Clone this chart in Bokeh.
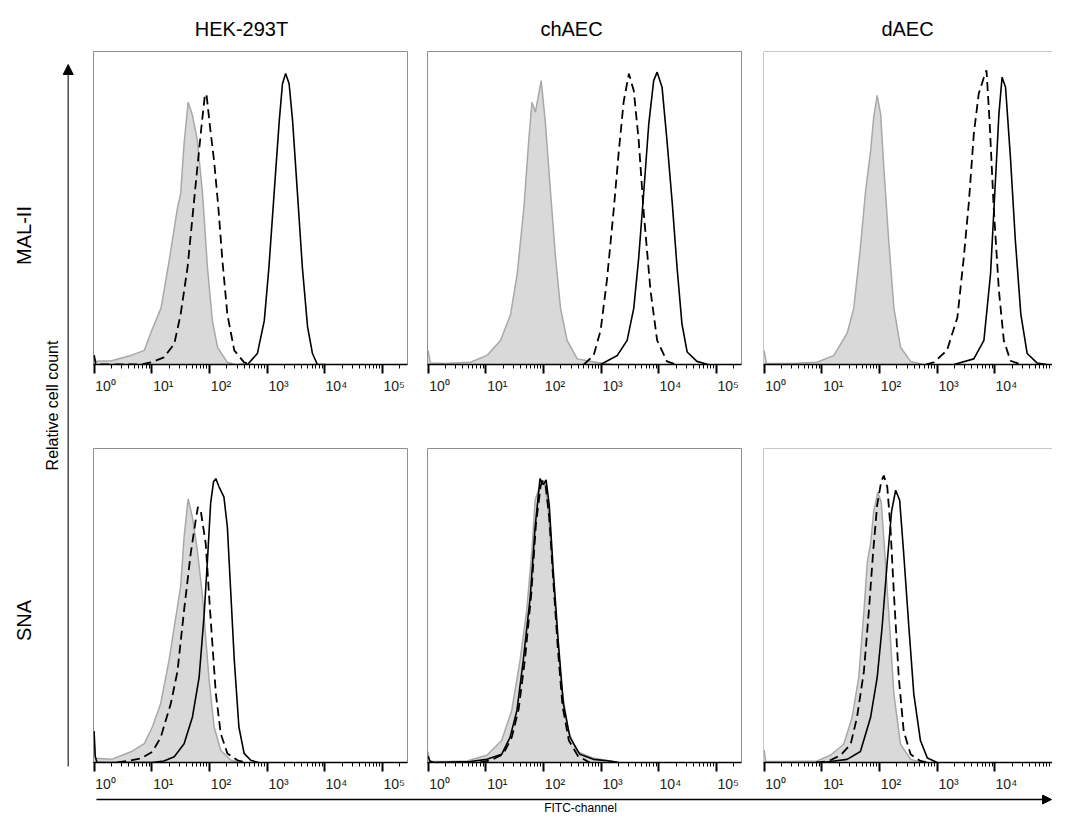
import math
from bokeh.plotting import figure
from bokeh.layouts import row, column
from bokeh.models import (Range1d, FixedTicker, CustomJSTickFormatter, Label,
                          Arrow, NormalHead, Span, LinearAxis)
from bokeh.embed import file_html
from bokeh.resources import INLINE

# ---------------- data ----------------
col_titles = ["HEK-293T", "chAEC", "dAEC"]
row_titles = ["MAL-II", "SNA"]
decade_ticks = [0, 1, 2, 3, 4, 5]
decade_exps = ["0", "1", "2", "3", "4", "5"]
y_title = "Relative cell count"
x_title = "FITC-channel"

# x: log10 FITC intensity, y: % of panel height (relative cell count)
# HEK-293T / MAL-II
hek_mal_ctrl_x = [0, 0.03, 0.3, 0.64, 0.87, 0.98, 1.16, 1.30, 1.445, 1.50, 1.56, 1.63, 1.705, 1.79, 1.88, 1.965, 2.05, 2.14, 2.31, 2.45]
hek_mal_ctrl_y = [2, 1.0, 1.2, 2.9, 4.5, 10, 18, 33, 50, 54.5, 70.6, 83.8, 79.6, 71.6, 54.5, 31, 14, 5.5, 0.7, 0]
hek_mal_dash_x = [0, 0.03, 0.8, 1.0, 1.21, 1.39, 1.50, 1.62, 1.705, 1.79, 1.86, 1.92, 1.935, 1.95, 2.01, 2.08, 2.15, 2.225, 2.31, 2.43, 2.6, 2.75]
hek_mal_dash_y = [3, 0, 0, 0.7, 2.3, 6.6, 16, 31, 47, 63, 75.8, 86, 86.5, 86, 75.8, 65, 51, 33, 16, 4.5, 0.7, 0]
hek_mal_solid_x = [2.5, 2.66, 2.83, 2.95, 3.03, 3.12, 3.21, 3.265, 3.32, 3.38, 3.44, 3.525, 3.61, 3.70, 3.785, 3.87, 4.0]
hek_mal_solid_y = [0, 0, 3.5, 14, 31, 54.6, 78, 89.7, 93, 89.7, 78, 54.6, 31, 12, 3.5, 0, 0]

# chAEC / MAL-II
ch_mal_ctrl_x = [0, 0.04, 0.3, 0.735, 1.02, 1.255, 1.43, 1.545, 1.66, 1.745, 1.80, 1.86, 1.96, 2.035, 2.12, 2.21, 2.295, 2.41, 2.585, 2.76, 2.99, 3.2]
ch_mal_ctrl_y = [4.5, 0.5, 0.3, 0.7, 2.9, 7.7, 16, 29, 50, 71.6, 83.8, 80.6, 90.7, 76.9, 55.6, 34, 18, 7.7, 1.8, 1.2, 0.5, 0]
ch_mal_dash_x = [2.7, 2.87, 2.99, 3.10, 3.22, 3.305, 3.39, 3.48, 3.565, 3.65, 3.74, 3.855, 3.97, 4.14, 4.3]
ch_mal_dash_y = [0, 2.9, 10.9, 27, 50, 68, 84, 92.9, 87.5, 71.6, 48, 23.6, 7.7, 1, 0]
ch_mal_solid_x = [2.99, 3.28, 3.45, 3.565, 3.65, 3.74, 3.825, 3.91, 3.97, 4.055, 4.14, 4.23, 4.315, 4.40, 4.49, 4.66, 4.85]
ch_mal_solid_y = [0, 2.9, 7.7, 18, 34, 55.6, 76.9, 90.7, 93.4, 88.6, 71.6, 52, 31, 13, 4, 1, 0]

# dAEC / MAL-II
d_mal_ctrl_x = [0, 0.04, 0.5, 0.92, 1.21, 1.44, 1.555, 1.67, 1.76, 1.845, 1.90, 1.96, 2.02, 2.075, 2.16, 2.25, 2.365, 2.54, 2.75]
d_mal_ctrl_y = [4.5, 0.3, 0.3, 0.7, 2.9, 10, 18, 37.5, 55.6, 68, 79, 86, 80, 63, 39.6, 18, 5.5, 1, 0]
d_mal_dash_x = [2.8, 2.94, 3.17, 3.35, 3.46, 3.55, 3.635, 3.72, 3.81, 3.855, 3.91, 3.98, 4.07, 4.155, 4.27, 4.45]
d_mal_dash_y = [0, 0.7, 4.5, 15, 34, 52, 73.7, 86.5, 91.8, 94, 77, 50, 23.6, 7.7, 1.2, 0]
d_mal_solid_x = [3.29, 3.635, 3.81, 3.925, 4.01, 4.07, 4.125, 4.185, 4.27, 4.355, 4.45, 4.56, 4.73, 4.9]
d_mal_solid_y = [0, 1.8, 7.7, 29, 58.8, 80, 91.8, 88.6, 66, 39.6, 16, 3.5, 0.5, 0]

# HEK-293T / SNA
hek_sna_ctrl_x = [0, 0.02, 0.1, 0.3, 0.64, 0.87, 1.01, 1.155, 1.30, 1.445, 1.50, 1.56, 1.63, 1.705, 1.79, 1.88, 1.99, 2.08, 2.195, 2.37, 2.55]
hek_sna_ctrl_y = [8, 1.3, 1.3, 1.0, 3.4, 6, 11.3, 18.8, 32.6, 49.6, 56, 71.8, 84, 78, 67.6, 52.7, 27, 11.3, 3.9, 0.7, 0]
hek_sna_dash_x = [0.4, 0.64, 0.81, 1.01, 1.155, 1.33, 1.445, 1.56, 1.675, 1.76, 1.80, 1.85, 1.935, 2.01, 2.11, 2.195, 2.31, 2.485, 2.65]
hek_sna_dash_y = [0, 0.7, 1.3, 3.4, 8, 18.8, 29, 48.5, 66.6, 77, 81.4, 80, 69.7, 48.5, 22, 9.2, 2.9, 0.7, 0]
hek_sna_solid_x = [0, 0.02, 0.05, 1.0, 1.21, 1.39, 1.56, 1.705, 1.82, 1.905, 1.965, 2.02, 2.07, 2.11, 2.165, 2.25, 2.31, 2.37, 2.43, 2.51, 2.60, 2.715, 2.85]
hek_sna_solid_y = [10, 2, 0, 0, 0.5, 1.8, 6, 14.5, 27, 46.4, 64.4, 82.5, 89.4, 90.4, 87.8, 84.6, 75, 53.8, 32.6, 11.3, 2.9, 0.7, 0]

# chAEC / SNA
ch_sna_ctrl_x = [0, 0.03, 0.3, 0.67, 1.02, 1.275, 1.45, 1.595, 1.71, 1.80, 1.855, 1.91, 1.97, 2.02, 2.085, 2.145, 2.23, 2.315, 2.43, 2.58, 2.865, 3.15, 3.3]
ch_sna_ctrl_y = [3.5, 0.3, 0.3, 0.5, 2.3, 7, 16.6, 32.6, 48.5, 67.6, 83.5, 86.6, 89.7, 89.4, 80, 64.4, 43, 24, 10, 3.5, 1.4, 0.5, 0]
ch_sna_dash_x = [0.9, 1.1, 1.3, 1.45, 1.57, 1.68, 1.79, 1.87, 1.95, 1.99, 2.04, 2.10, 2.17, 2.25, 2.33, 2.44, 2.6, 2.8]
ch_sna_dash_y = [0, 0.8, 2.6, 8, 17, 33, 54, 76, 88, 89.7, 88, 78, 58, 36, 18, 7, 2, 0]
ch_sna_solid_x = [0, 0.03, 0.1, 0.73, 1.02, 1.275, 1.42, 1.54, 1.65, 1.77, 1.855, 1.94, 2.00, 2.045, 2.10, 2.17, 2.26, 2.345, 2.46, 2.63, 2.865, 3.15, 3.3]
ch_sna_solid_y = [2, 0.5, 0, 0.3, 1, 2.6, 8, 16.6, 32.6, 52.7, 75, 90.4, 88.5, 90, 82, 61, 37.6, 18.6, 8, 2.6, 1, 0.5, 0]

# dAEC / SNA
d_sna_ctrl_x = [0, 0.03, 0.4, 0.92, 1.15, 1.38, 1.525, 1.64, 1.73, 1.79, 1.845, 1.90, 1.97, 2.03, 2.075, 2.16, 2.25, 2.365, 2.54, 2.75]
d_sna_ctrl_y = [4, 0.3, 0.3, 0.5, 2.3, 5.8, 14.3, 27, 48, 64, 69.6, 80, 86, 83, 71.5, 48, 21.8, 5.8, 1, 0]
d_sna_dash_x = [0.9, 1.1, 1.325, 1.50, 1.61, 1.73, 1.815, 1.89, 1.96, 2.03, 2.075, 2.135, 2.19, 2.25, 2.335, 2.42, 2.54, 2.71, 2.85]
d_sna_dash_y = [0, 0.3, 2.3, 5.8, 14.3, 29, 48, 67, 82, 89.5, 91.4, 87.8, 75, 53.8, 27, 10, 2.6, 0.5, 0]
d_sna_solid_x = [1.0, 1.15, 1.44, 1.67, 1.845, 1.96, 2.045, 2.135, 2.21, 2.28, 2.35, 2.42, 2.51, 2.595, 2.71, 2.83, 3.0]
d_sna_solid_y = [0, 0.3, 1, 3.5, 14.3, 27, 43, 64, 80, 86.7, 83.5, 66.5, 43, 21.8, 7, 1.4, 0]

panel_data = [
    [(hek_mal_ctrl_x, hek_mal_ctrl_y, hek_mal_dash_x, hek_mal_dash_y, hek_mal_solid_x, hek_mal_solid_y),
     (ch_mal_ctrl_x, ch_mal_ctrl_y, ch_mal_dash_x, ch_mal_dash_y, ch_mal_solid_x, ch_mal_solid_y),
     (d_mal_ctrl_x, d_mal_ctrl_y, d_mal_dash_x, d_mal_dash_y, d_mal_solid_x, d_mal_solid_y)],
    [(hek_sna_ctrl_x, hek_sna_ctrl_y, hek_sna_dash_x, hek_sna_dash_y, hek_sna_solid_x, hek_sna_solid_y),
     (ch_sna_ctrl_x, ch_sna_ctrl_y, ch_sna_dash_x, ch_sna_dash_y, ch_sna_solid_x, ch_sna_solid_y),
     (d_sna_ctrl_x, d_sna_ctrl_y, d_sna_dash_x, d_sna_dash_y, d_sna_solid_x, d_sna_solid_y)],
]

# ---------------- styling / geometry ----------------
FONT = "Liberation Sans"
PX_PER_DEC = 57.7
X0 = -0.01
LABEL_SHIFT = 11.5 / PX_PER_DEC          # tick labels sit right of their tick
HEADER_H = 51
LEFT_W = 93
FIG_W = [334, 336, 289]
FRAME_W = [314, 314, 289]
MB_RIGHT = [20, 22, 0]
ROW_GEOM = [(0, 313, 56), (28, 314, 32)]   # (top border, frame height, bottom border)
TOTAL_W = LEFT_W + sum(FIG_W)
ROWS_H = sum(a + b + c for a, b, c in ROW_GEOM)
BOTTOM_H = 813 - HEADER_H - ROWS_H
TITLE_X = [241, 571, 907]

FILL = "#d9d9d9"
FILL_LINE = "#a8a8a8"
FRAME_COL = "#8f8f8f"

SUP_JS = ("const s=['\\u2070','\\u00b9','\\u00b2','\\u00b3','\\u2074','\\u2075'];"
          "const e=exps[Math.round(tick - off)];"
          "return '10' + s[parseInt(e)];")


def make_panel(ri, ci):
    mb_top, fh, mb_bot = ROW_GEOM[ri]
    fw = FRAME_W[ci]
    x_end = X0 + fw / PX_PER_DEC
    p = figure(width=FIG_W[ci], height=mb_top + fh + mb_bot,
               x_range=Range1d(X0, x_end), y_range=Range1d(0, 100),
               output_backend="svg", toolbar_location=None, title=None,
               y_axis_location=None,
               min_border_left=0, min_border_right=MB_RIGHT[ci],
               min_border_top=mb_top, min_border_bottom=mb_bot)
    p.grid.visible = False
    p.background_fill_color = "white"
    p.border_fill_color = "white"

    cx, cy, dx, dy, sx, sy = panel_data[ri][ci]
    p.varea(x=cx, y1=[0] * len(cx), y2=cy, fill_color=FILL)
    p.line(cx, cy, line_color=FILL_LINE, line_width=1.5)
    p.line(dx, dy, line_color="black", line_width=1.8, line_dash="9 5")
    p.line(sx, sy, line_color="black", line_width=1.6)

    # axis 1: the tick marks
    ticks = [t for t in decade_ticks if t <= x_end]
    minor = [d + math.log10(k) for d in decade_ticks for k in range(2, 10)
             if d + math.log10(k) <= x_end]
    ax = p.xaxis[0]
    ax.ticker = FixedTicker(ticks=ticks, minor_ticks=minor)
    ax.formatter = CustomJSTickFormatter(code="return '';")
    ax.major_label_standoff = 0
    ax.major_label_text_font_size = "1px"
    ax.axis_line_color = "black"
    ax.axis_line_width = 1.5
    ax.major_tick_in = 0
    ax.major_tick_out = 9
    ax.major_tick_line_width = 2
    ax.major_tick_line_color = "black"
    ax.minor_tick_in = 0
    ax.minor_tick_out = 4
    ax.minor_tick_line_width = 1
    ax.minor_tick_line_color = "black"

    # axis 2: the decade labels, shifted to the right of their ticks
    lab_ticks = [t + LABEL_SHIFT for t in decade_ticks if t + LABEL_SHIFT <= x_end]
    lab = LinearAxis(ticker=FixedTicker(ticks=lab_ticks, minor_ticks=[]),
                     formatter=CustomJSTickFormatter(args=dict(off=LABEL_SHIFT, exps=decade_exps),
                                                     code=SUP_JS))
    lab.axis_line_color = None
    lab.major_tick_line_color = None
    lab.minor_tick_line_color = None
    lab.major_tick_in = 0
    lab.major_tick_out = 0
    lab.minor_tick_out = 0
    lab.major_label_standoff = 4
    lab.major_label_text_font = FONT
    lab.major_label_text_font_size = "14px"
    lab.major_label_text_color = "#222222"
    p.add_layout(lab, "below")

    if ci == 2:
        p.outline_line_color = None
        p.add_layout(Span(location=X0, dimension="height", line_color=FRAME_COL, line_width=1))
        p.add_layout(Span(location=100, dimension="width", line_color=FRAME_COL, line_width=1))
    else:
        p.outline_line_color = FRAME_COL
        p.outline_line_width = 1
    return p


def deco(w, h):
    f = figure(width=w, height=h, x_range=Range1d(0, w), y_range=Range1d(0, h),
               output_backend="svg", toolbar_location=None, title=None,
               x_axis_location=None, y_axis_location=None, min_border=0)
    f.grid.visible = False
    f.outline_line_color = None
    f.background_fill_color = "white"
    f.border_fill_color = "white"
    return f


rows_figs = [[make_panel(ri, ci) for ci in range(3)] for ri in range(2)]
grid = column(row(*rows_figs[0]), row(*rows_figs[1]))

# header with the column titles (centre of text at y = 28 from the top)
header = deco(TOTAL_W, HEADER_H)
for t, cx in zip(col_titles, TITLE_X):
    header.add_layout(Label(x=cx, y=HEADER_H - 28, text=t, text_font=FONT,
                            text_font_size="20px", text_align="center",
                            text_baseline="middle", text_color="black"))

# left panel: row titles, y title, y arrow  (y measured upward from bottom of rows)
left = deco(LEFT_W, ROWS_H)
bottom_ref = HEADER_H + ROWS_H
left.add_layout(Label(x=23, y=bottom_ref - 235, text=row_titles[0], angle=math.pi / 2,
                      text_font=FONT, text_font_size="20px", text_align="center",
                      text_baseline="middle", text_color="black"))
left.add_layout(Label(x=23, y=bottom_ref - 620, text=row_titles[1], angle=math.pi / 2,
                      text_font=FONT, text_font_size="20px", text_align="center",
                      text_baseline="middle", text_color="black"))
left.add_layout(Label(x=52, y=bottom_ref - 405, text=y_title, angle=math.pi / 2,
                      text_font=FONT, text_font_size="16px", text_align="center",
                      text_baseline="middle", text_color="black"))
left.add_layout(Arrow(x_start=67.7, y_start=bottom_ref - 766, x_end=67.7, y_end=bottom_ref - 64,
                      line_color="#333333", line_width=1.3,
                      end=NormalHead(size=10, fill_color="black", line_color="black")))

# bottom: x arrow and x title
bottom = deco(TOTAL_W, BOTTOM_H)
bottom.add_layout(Arrow(x_start=96, y_start=BOTTOM_H - 5, x_end=TOTAL_W - 1, y_end=BOTTOM_H - 5,
                        line_color="black", line_width=1.3,
                        end=NormalHead(size=9, fill_color="black", line_color="black")))
bottom.add_layout(Label(x=580, y=6, text=x_title, text_font=FONT,
                        text_font_size="12px", text_align="center",
                        text_baseline="middle", text_color="black"))

layout = column(header, row(left, grid), bottom)

open("out.html", "w").write(file_html(layout, INLINE))
